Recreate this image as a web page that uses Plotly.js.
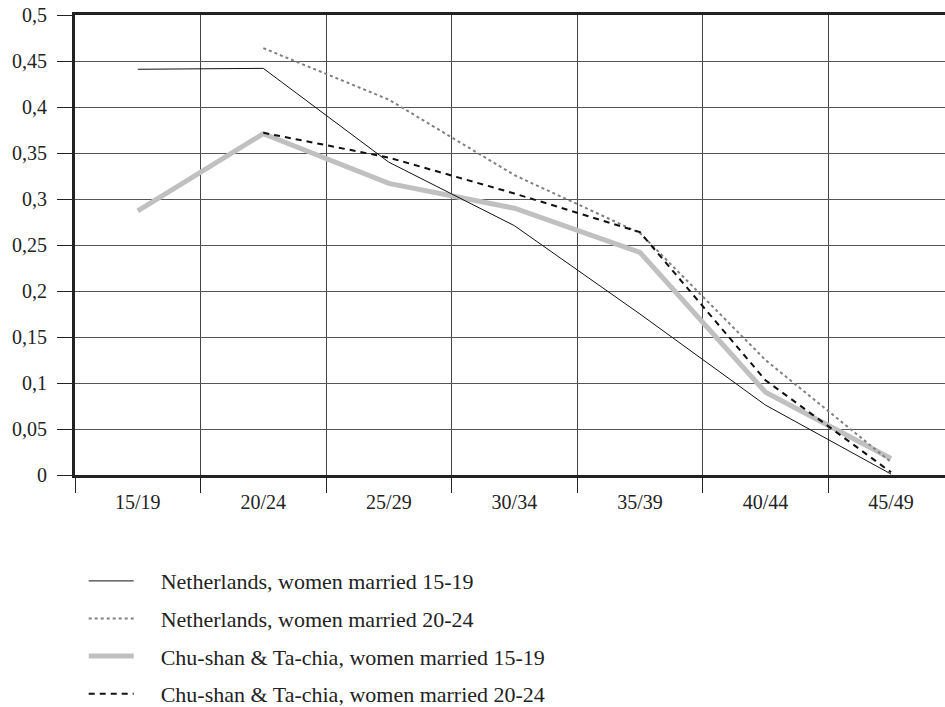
<!DOCTYPE html>
<html>
<head>
<meta charset="utf-8">
<script src="https://cdn.plot.ly/plotly-3.0.1.min.js"></script>
<style>html,body{margin:0;padding:0;background:#fff;}#chart{width:945px;height:707px;}</style>
</head>
<body>
<div id="chart"></div>
<script>
const categories = ["15/19","20/24","25/29","30/34","35/39","40/44","45/49"];
const nl1519 = [0.441, 0.442, 0.340, 0.271, 0.175, 0.076, 0.001];
const nl2024 = [null, 0.464, 0.408, 0.326, 0.263, 0.125, 0.014];
const cs1519 = [0.287, 0.371, 0.317, 0.290, 0.242, 0.090, 0.018];
const cs2024 = [null, 0.372, 0.345, 0.306, 0.264, 0.103, 0.003];
const names = ["Netherlands, women married 15-19","Netherlands, women married 20-24","Chu-shan & Ta-chia, women married 15-19","Chu-shan & Ta-chia, women married 20-24"];
const yTickVals = [0,0.05,0.1,0.15,0.2,0.25,0.3,0.35,0.4,0.45,0.5];
const yTickText = ["0","0,05","0,1","0,15","0,2","0,25","0,3","0,35","0,4","0,45","0,5"];

const pad = "\u00a0\u00a0\u00a0\u00a0";
const tickFont = {family: "Liberation Serif, DejaVu Serif, serif", size: 20, color: "#222"};
const legFont = {family: "Liberation Serif, DejaVu Serif, serif", size: 22, color: "#222"};
const base = {type:"scatter", mode:"lines", hoverinfo:"skip", connectgaps:false};
const traces = [
  Object.assign({}, base, {x: categories, y: cs1519, name: pad + names[2], legendgroup:"c", legendrank: 3, line:{color:"#c0c0c0", width:5}}),
  Object.assign({}, base, {x: categories, y: nl1519, name: pad + names[0], legendgroup:"a", legendrank: 1, line:{color:"#111", width:1}}),
  Object.assign({}, base, {x: categories, y: nl2024, name: pad + names[1], legendgroup:"b", legendrank: 2, line:{color:"#808080", width:2, dash:"dot"}}),
  Object.assign({}, base, {x: categories, y: cs2024, name: pad + names[3], legendgroup:"d", legendrank: 4, line:{color:"#111", width:2, dash:"6px,5px"}})
];

const layout = {
  width: 945, height: 707,
  margin: {l: 75, r: 0, t: 15, b: 232, autoexpand: false},
  paper_bgcolor: "#fff", plot_bgcolor: "#fff",
  font: tickFont,
  showlegend: true,
  legend: {
    x: 0.01, y: -0.185, xanchor: "left", yanchor: "top",
    traceorder: "grouped", tracegroupgap: 6, font: legFont, itemwidth: 45, bgcolor: "rgba(0,0,0,0)"
  },
  xaxis: {
    type: "category", categoryorder: "array", categoryarray: categories,
    range: [-0.5, 6.43], tickson: "boundaries", ticks: "outside", ticklen: 15, tickwidth: 1, tickcolor: "#222",
    ticklabelstandoff: 7,
    showgrid: true, gridcolor: "#444", gridwidth: 1,
    showline: true, linecolor: "#222", linewidth: 3, mirror: true,
    zeroline: false, fixedrange: true, tickfont: tickFont
  },
  yaxis: {
    range: [0, 0.5], tickvals: yTickVals, ticktext: yTickText,
    ticks: "outside", ticklen: 15, tickwidth: 1, tickcolor: "#222",
    ticklabelstandoff: 6,
    showgrid: true, gridcolor: "#555", gridwidth: 1,
    showline: true, linecolor: "#222", linewidth: 3,
    zeroline: false, fixedrange: true, tickfont: tickFont
  }
};
Plotly.newPlot("chart", traces, layout, {displayModeBar: false, staticPlot: true});
</script>
</body>
</html>
